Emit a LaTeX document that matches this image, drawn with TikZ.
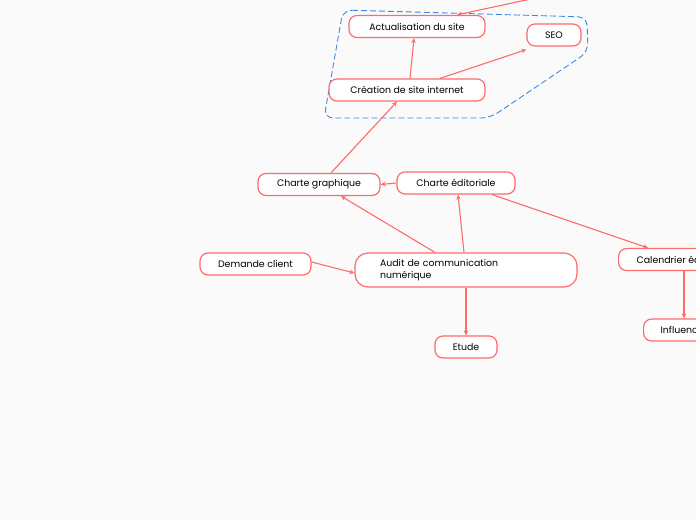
\documentclass[tikz,border=0pt]{standalone}
\usepackage{fontspec}
\setmainfont{Poppins}
\usetikzlibrary{arrows.meta}
\definecolor{mapred}{HTML}{FF6B6B}
\definecolor{mapblue}{HTML}{3D8BE0}
\definecolor{mapbg}{HTML}{FAFAFA}
\tikzset{
  topic/.style={draw=mapred, line width=1.2pt, fill=white, rounded corners=8pt,
    minimum height=22pt, inner xsep=16pt, font=\fontsize{9.4}{11.5}\selectfont},
  link/.style={mapred, line width=1.1pt, -{Stealth[length=5pt,width=4.5pt]}}
}
\begin{document}
\begin{tikzpicture}[x=1pt, y=-1pt]
  \fill[mapbg] (0,0) rectangle (696,520);
  \useasboundingbox (0,0) rectangle (696,520);
  \clip (0,0) rectangle (696,520);
  % zone site internet
  \draw[mapblue, line width=0.9pt, dash pattern=on 6pt off 3pt, rounded corners=9pt]
    (343,10) -- (587,17) -- (588,52) -- (490,118) -- (324,118) -- cycle;
  % topics
  \node[topic, minimum width=136pt] (actu) at (417,26.5) {Actualisation du site};
  \node[topic, minimum width=54pt, inner xsep=8pt] (seo) at (554,35) {SEO};
  \node[topic, minimum width=156pt] (creation) at (407,90) {Création de site internet};
  \node[topic, minimum width=122pt] (chgraph) at (319,184.5) {Charte graphique};
  \node[topic, minimum width=118pt] (chedit) at (456,183) {Charte éditoriale};
  \node[topic, minimum width=111pt] (demande) at (255.5,264) {Demande client};
  \node[topic, minimum height=34pt, inner xsep=25pt, text width=172pt, align=left,
    rounded corners=13pt] (audit) at (466,270) {Audit de communication\\numérique};
  \node[topic, minimum width=62pt] (etude) at (466,347) {Etude};
  \node[topic, anchor=west, inner xsep=18pt] (calendrier) at (618,259.5) {Calendrier éditorial};
  \node[topic, anchor=west, inner xsep=17pt] (influ) at (643,330) {Influenceurs};
  \coordinate (hors) at (600,-16);
  % links
  \draw[link] (hors) -- ([xshift=40pt]actu.north);
  \draw[link] ([xshift=3pt]creation.north) -- ([xshift=-3pt]actu.south);
  \draw[link] ([xshift=33pt]creation.north) -- ([yshift=-3pt]seo.south west);
  \draw[link] ([xshift=12pt]chgraph.north) -- ([xshift=-10pt]creation.south);
  \draw[link] (chedit.west) -- (chgraph.east);
  \draw[link] ([xshift=-31pt]audit.north) -- ([xshift=22pt]chgraph.south);
  \draw[link] ([xshift=-2pt]audit.north) -- ([xshift=2pt]chedit.south);
  \draw[link] ([xshift=36pt]chedit.south) -- ([xshift=30pt]calendrier.north west);
  \draw[link] ([yshift=2pt]demande.east) -- ([yshift=-3pt]audit.west);
  \draw[link] (audit.south) -- (etude.north);
  \draw[link] ([xshift=66pt]calendrier.south west) -- ([xshift=41pt]influ.north west);
\end{tikzpicture}
\end{document}
